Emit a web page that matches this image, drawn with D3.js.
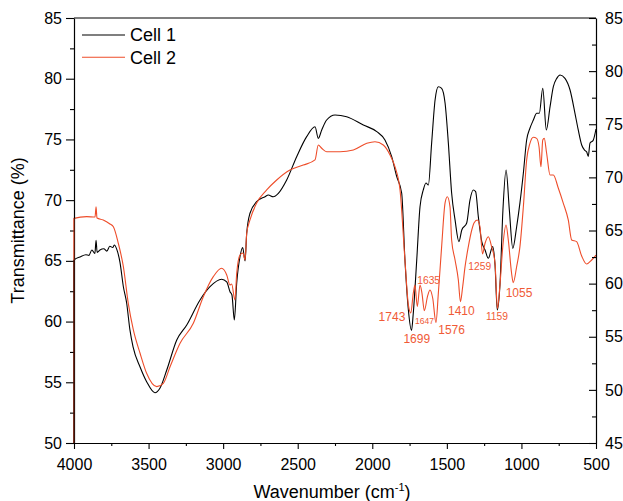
<!DOCTYPE html>
<html>
<head>
<meta charset="utf-8">
<script src="https://cdn.jsdelivr.net/npm/d3@7"></script>
<style>
  body { margin: 0; background: #fff; }
  text { font-family: Arial, "Liberation Sans", sans-serif; fill: #000; }
</style>
</head>
<body>
<div id="chart"></div>
<script>
// ---- data ----
var seriesNames = ["Cell 1", "Cell 2"];

var wave1 = [4000, 4000, 3960, 3920, 3900, 3880, 3860, 3852, 3845, 3826, 3800, 3780, 3760, 3740, 3730, 3712,
  3692, 3669, 3647, 3625, 3604, 3557, 3513, 3457, 3423, 3378, 3311, 3244, 3155, 3088, 3010, 2976, 2954,
  2941, 2925, 2909, 2887, 2869, 2853, 2842, 2820, 2775, 2719, 2697, 2664, 2630, 2574, 2507, 2440, 2384,
  2362, 2339, 2306, 2250, 2172, 2060, 1970, 1915, 1870, 1836, 1803, 1781, 1758, 1737, 1725, 1702, 1680,
  1658, 1640, 1624, 1602, 1579, 1557, 1535, 1512, 1490, 1468, 1445, 1419, 1400, 1367, 1345, 1323, 1307,
  1289, 1266, 1244, 1222, 1193, 1177, 1162, 1144, 1124, 1103, 1081, 1058, 1032, 1010, 987, 965, 943, 920,
  898, 880, 857, 833, 808, 786, 763, 741, 708, 674, 641, 619, 596, 575, 563, 552, 540, 520, 500];
var cell1 = [50, 65.07, 65.32, 65.5, 65.45, 65.9, 65.6, 66.7, 65.7, 65.9, 66.0, 65.8, 66.2, 66.1, 66.3, 65.9,
  64.9, 62.87, 61.53, 59.31, 57.91, 56.26, 55.05, 54.14, 54.53, 56.01, 58.48, 59.72, 61.78, 62.87, 63.48,
  63.26, 62.46, 62.19, 60.13, 63.18, 65.34, 66.1, 64.99, 67.27, 68.92, 69.87, 70.28, 70.42, 70.28, 70.56,
  71.66, 73.58, 75.23, 76.05, 75.09, 75.78, 76.6, 77.01, 76.87, 76.19, 75.64, 74.95, 73.58, 71.93, 70.59,
  65.07, 60.95, 59.27, 60.71, 65.07, 69.46, 70.84, 71.41, 71.25, 74.71, 78.25, 79.34, 79.21, 78.0, 74.71,
  70.59, 68.37, 66.58, 67.54, 68.12, 70.01, 70.84, 70.7, 68.64, 66.58, 65.9, 65.21, 66.17, 64.66, 60.95,
  63.01, 69.19, 72.48, 69.19, 66.03, 67.81, 69.77, 72.24, 74.95, 75.92, 76.6, 77.15, 77.15, 79.21, 75.78,
  77.7, 79.34, 80.03, 80.31, 80.03, 79.07, 77.15, 75.78, 74.54, 74.1, 73.99, 73.6, 74.71, 74.9, 75.86];

var wave2 = [4000, 4000, 3915, 3859, 3852, 3846, 3804, 3759, 3736, 3703, 3669, 3636, 3602, 3557, 3513, 3445,
  3401, 3356, 3289, 3200, 3133, 3066, 3010, 2976, 2954, 2943, 2921, 2909, 2887, 2867, 2853, 2842, 2820,
  2775, 2708, 2641, 2552, 2463, 2384, 2362, 2339, 2306, 2216, 2127, 2037, 1982, 1926, 1881, 1848, 1814,
  1781, 1758, 1742, 1725, 1714, 1698, 1680, 1667, 1651, 1629, 1613, 1595, 1573, 1557, 1535, 1512, 1497,
  1479, 1468, 1445, 1423, 1409, 1394, 1378, 1356, 1333, 1318, 1296, 1278, 1261, 1244, 1222, 1200, 1177,
  1161, 1144, 1124, 1103, 1088, 1066, 1055, 1032, 1010, 987, 965, 943, 920, 898, 882, 869, 857, 847, 831,
  808, 786, 753, 719, 686, 663, 630, 596, 563, 529, 500];
var cell2 = [50, 68.5, 68.64, 68.61, 69.46, 68.53, 68.37, 68.04, 67.81, 66.45, 64.52, 61.5, 59.31, 57.39,
  55.74, 54.64, 54.92, 56.28, 58.21, 59.86, 62.05, 63.7, 64.39, 63.84, 63.01, 63.09, 61.78, 63.98, 65.48,
  65.65, 65.07, 67.27, 68.37, 69.77, 70.84, 71.66, 72.48, 72.89, 73.31, 74.54, 74.27, 73.99, 73.99, 74.13,
  74.68, 74.81, 74.54, 73.72, 72.75, 70.84, 65.07, 61.37, 60.71, 62.35, 63.01, 61.23, 63.01, 62.35, 60.9,
  62.11, 62.6, 61.94, 59.91, 62.35, 66.17, 69.77, 70.28, 69.46, 66.72, 65.07, 63.42, 61.64, 62.87, 64.52,
  66.17, 67.54, 68.12, 68.37, 67.81, 65.57, 66.45, 66.99, 66.17, 64.8, 61.09, 63.01, 66.31, 67.95, 66.72,
  63.98, 63.2, 64.52, 66.17, 69.46, 73.31, 74.68, 75.18, 75.09, 74.4, 72.75, 74.95, 75.09, 73.86, 72.07,
  72.07, 71.0, 69.74, 68.37, 66.72, 66.58, 65.4, 64.74, 65.07, 65.48];

// peak labels, placed in data units (wavenumber, left-axis transmittance)
var peakLabels = ["1743", "1699", "1647", "1635", "1576", "1410", "1259", "1159", "1055"];
var peakLabelWave = [1868, 1702, 1650, 1622, 1468, 1403, 1280, 1164, 1016];
var peakLabelValue = [60.4, 58.57, 60.07, 63.42, 59.31, 60.9, 64.58, 60.46, 62.41];
var peakLabelSize = ["big", "big", "tiny", "small", "big", "big", "small", "small", "big"];

var xTicks = [4000, 3500, 3000, 2500, 2000, 1500, 1000, 500];
var leftTicks = [50, 55, 60, 65, 70, 75, 80, 85];
var rightTicks = [45, 50, 55, 60, 65, 70, 75, 80, 85];

// ---- layout ----
var W = 623, H = 501;
var margin = {top: 18, right: 27, bottom: 58, left: 74};
var width = W - margin.left - margin.right,
    height = H - margin.top - margin.bottom;

var colors = {"Cell 1": "#000000", "Cell 2": "#ee4d2a"};
var labelColor = "#f05a36";
var labelFont = {big: 12, small: 10.3, tiny: 8.5};

var svg = d3.select("#chart").append("svg")
    .attr("width", W)
    .attr("height", H);

var g = svg.append("g")
    .attr("transform", "translate(" + margin.left + "," + margin.top + ")");

var x = d3.scaleLinear().domain([4000, 500]).range([0, width]);
var yL = d3.scaleLinear().domain([50, 85]).range([height, 0]);
var yR = d3.scaleLinear().domain([45, 85]).range([height, 0]);

function minors(ticks, step) {
    var out = [];
    for (var i = 0; i < ticks.length - 1; i++) out.push((ticks[i] + ticks[i + 1]) / 2);
    return out;
}

// lines
var line = d3.line()
    .x(function(d) { return x(d[0]); })
    .y(function(d) { return yL(d[1]); })
    .curve(d3.curveMonotoneX);

var series = [
    {name: "Cell 1", pts: d3.zip(wave1, cell1)},
    {name: "Cell 2", pts: d3.zip(wave2, cell2)}
];

g.selectAll(".spec")
    .data(series).enter().append("path")
    .attr("class", "spec")
    .attr("fill", "none")
    .attr("stroke", function(d) { return colors[d.name]; })
    .attr("stroke-width", 1.1)
    .attr("d", function(d) { return line(d.pts); });

// axes
function styleAxis(sel) {
    sel.select(".domain").attr("stroke", "#000").attr("stroke-width", 1.2);
    sel.selectAll(".tick line").attr("stroke", "#000").attr("stroke-width", 1.1);
    sel.selectAll("text").style("font-size", "16px").attr("fill", "#000");
}

// bottom
g.append("g")
    .attr("transform", "translate(0," + height + ")")
    .call(d3.axisBottom(x).tickValues(xTicks).tickSize(6).tickSizeOuter(0).tickPadding(10)
        .tickFormat(d3.format("d")))
    .call(styleAxis);
g.append("g")
    .attr("transform", "translate(0," + height + ")")
    .call(d3.axisBottom(x).tickValues(minors(xTicks)).tickSize(3).tickFormat(""))
    .call(styleAxis)
    .select(".domain").remove();

// top border
g.append("line")
    .attr("x1", 0).attr("x2", width).attr("y1", 0).attr("y2", 0)
    .attr("stroke", "#000").attr("stroke-width", 1.2);

// left
g.append("g")
    .call(d3.axisLeft(yL).tickValues(leftTicks).tickSize(8).tickSizeOuter(0).tickPadding(4))
    .call(styleAxis);
g.append("g")
    .call(d3.axisLeft(yL).tickValues(minors(leftTicks)).tickSize(4).tickFormat(""))
    .call(styleAxis)
    .select(".domain").remove();

// right
g.append("g")
    .attr("transform", "translate(" + width + ",0)")
    .call(d3.axisRight(yR).tickValues(rightTicks).tickSize(-7).tickSizeOuter(0).tickPadding(9))
    .call(styleAxis);
g.append("g")
    .attr("transform", "translate(" + width + ",0)")
    .call(d3.axisRight(yR).tickValues(minors(rightTicks)).tickSize(-4).tickFormat(""))
    .call(styleAxis)
    .select(".domain").remove();

// vertical start segment of the traces over the left axis
g.selectAll(".start")
    .data(series.slice().reverse()).enter().append("line")
    .attr("x1", function(d) { return x(d.pts[0][0]); })
    .attr("x2", function(d) { return x(d.pts[1][0]); })
    .attr("y1", function(d) { return yL(d.pts[0][1]); })
    .attr("y2", function(d) { return yL(d.pts[1][1]); })
    .attr("stroke", function(d) { return colors[d.name]; })
    .attr("stroke-opacity", 0.6)
    .attr("stroke-width", 1.2);

// peak labels
g.selectAll(".peak")
    .data(peakLabels).enter().append("text")
    .attr("class", "peak")
    .attr("x", function(d, i) { return x(peakLabelWave[i]); })
    .attr("y", function(d, i) { return yL(peakLabelValue[i]); })
    .attr("dy", "0.35em")
    .attr("text-anchor", "middle")
    .style("font-size", function(d, i) { return labelFont[peakLabelSize[i]] + "px"; })
    .style("fill", labelColor)
    .text(function(d) { return d; });

// axis titles
svg.append("text")
    .attr("transform", "translate(24," + (margin.top + height / 2) + ") rotate(-90)")
    .attr("text-anchor", "middle")
    .style("font-size", "18px")
    .text("Transmittance (%)");

var xt = svg.append("text")
    .attr("x", margin.left + width / 2 - 3)
    .attr("y", 498)
    .attr("text-anchor", "middle")
    .style("font-size", "18px");
xt.append("tspan").text("Wavenumber (cm");
xt.append("tspan").attr("dy", -7).style("font-size", "11px").text("-1");
xt.append("tspan").attr("dy", 7).text(")");

// legend
var legend = g.selectAll(".legend")
    .data(seriesNames).enter().append("g")
    .attr("class", "legend")
    .attr("transform", function(d, i) { return "translate(8," + (17 + i * 22.3) + ")"; });
legend.append("line")
    .attr("x1", 0).attr("x2", 43)
    .attr("stroke", function(d) { return colors[d]; })
    .attr("stroke-width", 1.1);
legend.append("text")
    .attr("x", 48)
    .attr("dy", "0.36em")
    .style("font-size", "18px")
    .text(function(d) { return d; });
</script>
</body>
</html>
